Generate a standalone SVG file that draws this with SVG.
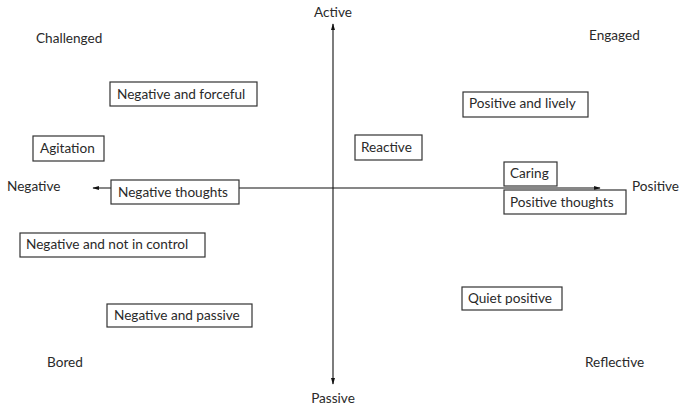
<svg xmlns="http://www.w3.org/2000/svg" width="680" height="407" viewBox="0 0 680 407">
<style>
text{font-family:Lato,"Liberation Sans",sans-serif;font-size:13.6px;fill:#2a2a2a}
.b rect{fill:#fff;stroke:#333;stroke-width:1.2}
.ax{stroke:#111;stroke-width:1.1;fill:none}
</style>
<defs>
<marker id="ah" viewBox="0 0 10 10" refX="9" refY="5" markerWidth="6" markerHeight="6" orient="auto-start-reverse">
<path d="M0,2 L10,5 L0,8 z" fill="#111"/>
</marker>
</defs>
<rect width="680" height="407" fill="#fff"/>
<g id="connectors">
<line class="ax" x1="333" y1="384" x2="333" y2="24" marker-start="url(#ah)" marker-end="url(#ah)"/>
<line class="ax" x1="93" y1="188" x2="600" y2="188" marker-start="url(#ah)" marker-end="url(#ah)"/>
</g>
<g id="labels">
<text x="333" y="17" text-anchor="middle">Active</text>
<text x="333" y="403" text-anchor="middle">Passive</text>
<text x="7" y="191">Negative</text>
<text x="632" y="191">Positive</text>
<text x="36" y="43">Challenged</text>
<text x="589" y="40">Engaged</text>
<text x="47" y="367">Bored</text>
<text x="585" y="367">Reflective</text>
</g>
<g id="n1" class="b"><rect x="110" y="82" width="147" height="24"/><text x="117" y="99">Negative and forceful</text></g>
<g id="n2" class="b"><rect x="33" y="136" width="71" height="25"/><text x="40" y="153">Agitation</text></g>
<g id="n3" class="b"><rect x="111" y="180" width="128" height="24"/><text x="118" y="197">Negative thoughts</text></g>
<g id="n4" class="b"><rect x="20" y="233" width="185" height="24"/><text x="26" y="249">Negative and not in control</text></g>
<g id="n5" class="b"><rect x="107" y="304" width="145" height="23"/><text x="114" y="320">Negative and passive</text></g>
<g id="n6" class="b"><rect x="463" y="92" width="125" height="25"/><text x="469" y="108">Positive and lively</text></g>
<g id="n7" class="b"><rect x="355" y="135" width="67" height="25"/><text x="361" y="152">Reactive</text></g>
<g id="n8" class="b"><rect x="504" y="162" width="53" height="24"/><text x="510" y="178">Caring</text></g>
<g id="n9" class="b"><rect x="504" y="190" width="122" height="24"/><text x="510" y="207">Positive thoughts</text></g>
<g id="n10" class="b"><rect x="462" y="287" width="100" height="23"/><text x="468" y="303">Quiet positive</text></g>
</svg>
